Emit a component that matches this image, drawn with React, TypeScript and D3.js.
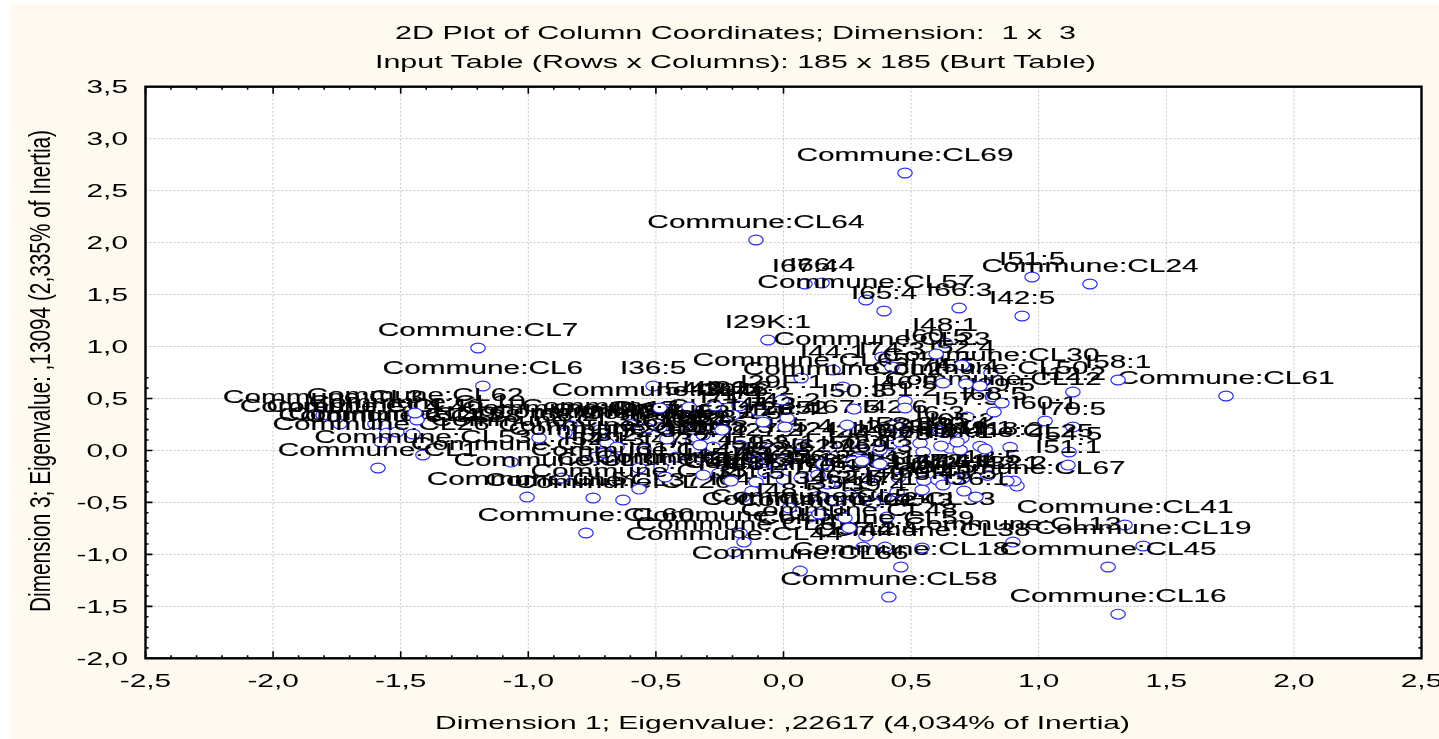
import React from "react";
import * as d3 from "d3";

const titleLines = [
  "2D Plot of Column Coordinates; Dimension:  1 x  3",
  "Input Table (Rows x Columns): 185 x 185 (Burt Table)",
];
const xTitle = "Dimension 1; Eigenvalue: ,22617 (4,034% of Inertia)";
const yTitle = "Dimension 3; Eigenvalue: ,13094 (2,335% of Inertia)";
const xTickValues = [-2.5, -2, -1.5, -1, -0.5, 0, 0.5, 1, 1.5, 2, 2.5];
const yTickValues = [-2, -1.5, -1, -0.5, 0, 0.5, 1, 1.5, 2, 2.5, 3, 3.5];

const C = "Commune:CL";
const pointLabels = [
  "I28:3","I27:2","I25:4","I24:1","I23:5","I22:3","I21:2","I20:4","I19:1","I18:2",
  C+"8",C+"11",C+"14","I17:3","I16:4","I15:2","I14:1","I13:5",
  C+"17",C+"21",C+"27",C+"42",C+"51",C+"52",
  C+"69",C+"64","I51:5",C+"24","I67:4","I66:4",C+"57","I65:4",
  "I66:3","I42:5",C+"7",C+"6",C+"61","I29K:1","I48:1",C+"23",
  C+"65",C+"30","I58:1","I60:1","I70:5","I57:5","I12:2","I44:1",
  C+"2",C+"12","I36:5",C+"3",C+"4",C+"40",C+"49",C+"15",
  C+"28",C+"26",C+"53",C+"1",C+"9",C+"39","I68:2",C+"5",
  C+"37",C+"60",C+"31",C+"46","I54:3","I46:1","I39:2","I30:2",
  "I71:1","I71:2","I45:2","I26:4",C+"10","I37:4","I34:1","I35:3",
  "I52:1","I40:3","I47:2","I43:2","I32:4","I50:4","I73:1","I49:2",
  "I52:3","I33:2","I45:4","I56:2","I41:5","I64:1","I62:5",C+"20",
  "I47:1",C+"22",C+"33",C+"59",C+"68",C+"63",C+"44","I57:2",
  "I44:4",C+"38",C+"13",C+"66",C+"18",C+"58",C+"41",C+"19",
  C+"45",C+"16",C+"67","I32:2","I69:1","I67:5","I42:6","I6:3",
  "I50:3","I46:5","I29:5","I74:5","I55:4","I52:4","I58:3","I65:2",
  "I73:4","I71:5","I49:5","I69:3",
  "I60:5","I74:3",C+"62","I33:4",C+"36",C+"29","I61:4","I63:2",
  "I72:3",C+"47","I31:1",C+"55",C+"35","I38:5","I53:2","I29F:1",
  "I41:3","I59:3","I55:1","I62:2",C+"32","I40:1","I37:1","I48:2",
  "I70:1","I34:3","I35:1","I39:4","I48:5",C+"54",C+"43",C+"48",
  "I59:1","I30:4",C+"25","I31:5","I72:1","I42:1","I60:4","I43:5",
  "I36:1","I68:5",C+"50","I54:5","I51:1","I51:2",
];
const dim1 = [
  -.170,-.053,.065,.182,.300,.418,.535,.653,.770,.888,
  0,.100,.200,.330,.450,.550,.700,.800,
  -.837,-.719,-.601,-.484,-.366,-.249,
  .476,-.108,.974,1.201,.084,.151,.323,.394,
  .688,.935,-1.197,-1.178,1.734,-.061,.633,.386,
  .069,.813,1.311,1.025,1.134,.719,1.134,.194,
  .233,.821,-.511,-1.804,-1.738,-1.601,-1.554,-1.515,
  -1.452,-1.577,-1.413,-1.589,-1.068,-.958,-.856,-1.005,
  -.746,-.774,-.868,-.484,-.370,-.268,-.217,-.174,
  -.198,-.100,.014,.006,-1.436,-.355,-.339,-.315,
  -.735,-.672,-.421,-.276,-.323,.272,.308,.378,
  -.022,-.072,-.253,.135,-.123,-.159,.261,-.629,
  .394,.104,.406,.323,-.170,-.155,-.194,.312,
  .398,.543,.899,.065,.460,.413,1.338,1.409,
  1.272,1.311,.915,.903,.692,.249,.437,.613,
  .276,.476,.856,.625,.715,.699,.457,.699,
  .547,.605,.445,.378,
  .598,.425,-1.444,-.535,-.692,-.652,-.457,-.703,
  -.547,-.566,-.480,-.464,-.566,-.327,-.241,-.006,
  -.080,-.108,-.002,.155,-.315,-.206,.069,-.108,
  .174,.139,.202,.351,.022,.139,.241,.257,
  .617,.680,.790,.625,.672,.876,.543,.707,
  .754,.825,.770,1.119,1.115,.476,
];
const dim3 = [
  .050,.020,.060,.030,.010,.050,.070,.020,.040,.030,
  -.280,-.250,-.300,-.270,-.260,-.290,-.270,-.240,
  .240,.200,.250,.220,.190,.240,
  2.670,2.025,1.669,1.602,1.602,1.611,1.448,1.342,
  1.371,1.294,.986,.620,.524,1.063,1.034,.899,
  .697,.745,.678,.283,.225,.321,.562,.774,
  .610,.514,.620,.341,.254,.254,.167,.177,
  .158,.081,-.044,-.169,-.112,.119,.167,-.449,
  -.458,-.795,-.266,.408,.418,.427,.408,.427,
  .341,.379,.312,.225,.293,.100,.119,.148,
  -.064,-.064,-.064,.033,-.064,-.102,-.102,.004,
  -.160,-.208,-.218,-.237,-.391,-.449,-.429,-.477,
  -.449,-.641,-.641,-.824,-.795,-.882,-.978,-.930,
  -.930,-.939,-.882,-1.161,-1.122,-1.411,-.718,-.920,
  -1.122,-1.575,-.343,-.295,.004,.244,.244,.187,
  .398,.475,.456,.649,.639,.822,.081,.119,
  -.015,-.285,-.400,-.131,
  .928,.803,.360,.216,.071,.033,.110,-.025,
  .013,-.169,-.160,-.256,-.372,.052,.196,.485,
  .273,-.102,-.092,-.131,-.237,-.295,-.266,-.304,
  -.323,-.439,-.487,-.506,-.554,-.612,-.651,-.747,
  .042,.081,.013,-.333,-.275,-.295,-.381,-.391,
  -.449,.370,.620,-.015,-.141,.408,
];

const W = 1439, H = 739;
const L = 145.5, R = 1421.5, T = 86.7, B = 658.3;
const FONT = "'Liberation Sans', Arial, sans-serif";
const FS = 19;
const SX = 1.57;

const fmt = (v: number) => d3.format(".1f")(v).replace(".", ",").replace("\u2212", "-");

function stretched(x: number, y: number) {
  return `translate(${x},${y}) scale(${SX},1)`;
}

export default function App() {
  const xs = d3.scaleLinear().domain([-2.5, 2.5]).range([L, R]);
  const ys = d3.scaleLinear().domain([-2, 3.5]).range([B, T]);
  const xMinor = d3.range(0, 26).map((i) => -2.5 + i * 0.1);
  const yMinor = d3.range(0, 28).map((i) => -2 + i * 0.1);
  const ticks: string[] = [];
  xMinor.forEach((v, i) => {
    const len = i % 5 === 0 ? 7 : 3;
    const px = xs(v);
    ticks.push(`M${px},${B}V${B - len}M${px},${T}V${T + len}`);
  });
  yMinor.forEach((v, i) => {
    const len = i % 5 === 0 ? 7 : 3;
    const py = ys(v);
    ticks.push(`M${L},${py}H${L + len}M${R},${py}H${R - len}`);
  });
  return (
    <svg
      width={W}
      height={H}
      viewBox={`0 0 ${W} ${H}`}
      style={{ position: "absolute", left: 0, top: 0, display: "block" }}
      fontFamily={FONT}
    >
      <defs>
        <filter id="soft" x="0" y="0" width="100%" height="100%">
          <feGaussianBlur stdDeviation="0.45 0.3" />
        </filter>
      </defs>
      <rect width={W} height={H} fill="#fff" />
      <g filter="url(#soft)">
        <rect x={10} y={4} width={W - 10} height={H - 4} fill="#fffaf0" />
        <rect x={L} y={T} width={R - L} height={B - T} fill="#fff" />
        {xTickValues.slice(1, -1).map((v) => (
          <line key={v} x1={xs(v)} x2={xs(v)} y1={T} y2={B} stroke="#c4c4c4" strokeWidth={1} strokeDasharray="2 2" />
        ))}
        {yTickValues.slice(1, -1).map((v) => (
          <line key={v} x1={L} x2={R} y1={ys(v)} y2={ys(v)} stroke="#c4c4c4" strokeWidth={1} strokeDasharray="2 2" />
        ))}
        {pointLabels.map((label, i) => {
          const px = xs(dim1[i]);
          const py = ys(dim3[i]);
          return (
            <g key={i}>
              <ellipse cx={px} cy={py} rx={7.2} ry={4.9} fill="#fff" stroke="#2a2aff" strokeWidth={1.2} />
              <text transform={stretched(px, py - 12)} textAnchor="middle" fontSize={FS} fill="#000" stroke="#000" strokeWidth={0.15}>
                {label}
              </text>
            </g>
          );
        })}
        <rect x={L} y={T} width={R - L} height={B - T} fill="none" stroke="#000" strokeWidth={2.4} />
        <path d={ticks.join("")} stroke="#000" strokeWidth={1.6} fill="none" />
        {xTickValues.map((v) => (
          <text key={v} transform={stretched(xs(v), 687)} textAnchor="middle" fontSize={FS} fill="#000">
            {fmt(v)}
          </text>
        ))}
        {yTickValues.map((v) => (
          <text key={v} transform={stretched(128, ys(v) + 6.5)} textAnchor="end" fontSize={FS} fill="#000">
            {fmt(v)}
          </text>
        ))}
        {titleLines.map((t, i) => (
          <text
            key={t}
            x={735.5}
            y={39 + i * 29}
            textAnchor="middle"
            fontSize={FS}
            fill="#000"
            textLength={i === 0 ? 681 : 721}
            lengthAdjust="spacingAndGlyphs"
            style={{ whiteSpace: "pre" }}
          >
            {t}
          </text>
        ))}
        <text x={782.5} y={729} textAnchor="middle" fontSize={FS} fill="#000" textLength={695} lengthAdjust="spacingAndGlyphs">
          {xTitle}
        </text>
        <text
          transform="translate(50,371) rotate(-90) scale(1,1.57)"
          textAnchor="middle"
          fontSize={FS}
          fill="#000"
          textLength={482}
          lengthAdjust="spacingAndGlyphs"
        >
          {yTitle}
        </text>
      </g>
    </svg>
  );
}
